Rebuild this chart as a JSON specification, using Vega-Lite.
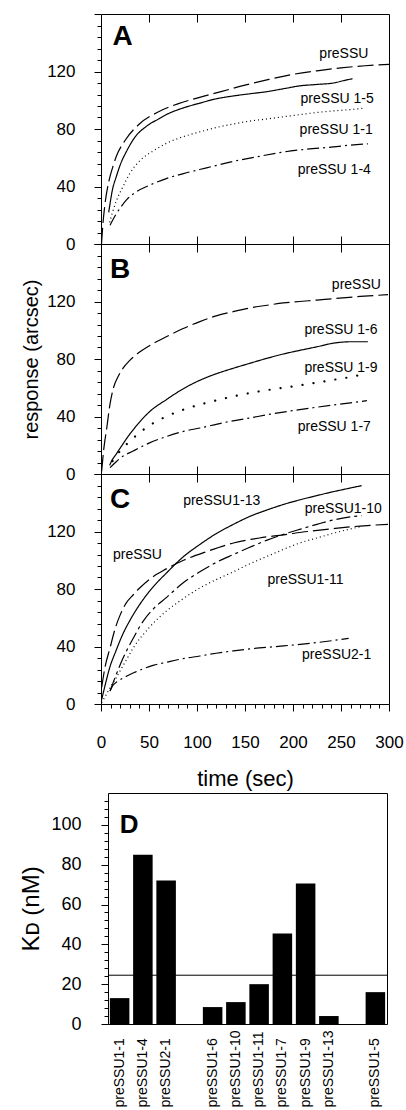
{
  "$schema": "https://vega.github.io/schema/vega-lite/v6.json",
  "padding": {"left": 19, "top": 4, "right": 2, "bottom": 0},
  "spacing": 1,
  "datasets": {
    "curves": [
      {"panel":"A","series":"preSSU","t":0.5,"y":0},{"panel":"A","series":"preSSU","t":2,"y":14},{"panel":"A","series":"preSSU","t":4,"y":27},{"panel":"A","series":"preSSU","t":8,"y":43},{"panel":"A","series":"preSSU","t":12,"y":53},{"panel":"A","series":"preSSU","t":16,"y":61},{"panel":"A","series":"preSSU","t":25,"y":72},{"panel":"A","series":"preSSU","t":40,"y":83.5},{"panel":"A","series":"preSSU","t":60,"y":92},{"panel":"A","series":"preSSU","t":80,"y":97.5},{"panel":"A","series":"preSSU","t":100,"y":101.5},{"panel":"A","series":"preSSU","t":125,"y":106},{"panel":"A","series":"preSSU","t":150,"y":110.5},{"panel":"A","series":"preSSU","t":175,"y":114.5},{"panel":"A","series":"preSSU","t":200,"y":118},{"panel":"A","series":"preSSU","t":225,"y":120.5},{"panel":"A","series":"preSSU","t":250,"y":122.5},{"panel":"A","series":"preSSU","t":275,"y":124},{"panel":"A","series":"preSSU","t":300,"y":125},
      {"panel":"A","series":"preSSU 1-5","t":8,"y":22},{"panel":"A","series":"preSSU 1-5","t":9.4,"y":28},{"panel":"A","series":"preSSU 1-5","t":12,"y":38},{"panel":"A","series":"preSSU 1-5","t":16,"y":47},{"panel":"A","series":"preSSU 1-5","t":20,"y":55},{"panel":"A","series":"preSSU 1-5","t":27,"y":65},{"panel":"A","series":"preSSU 1-5","t":35,"y":74},{"panel":"A","series":"preSSU 1-5","t":47.6,"y":82},{"panel":"A","series":"preSSU 1-5","t":60,"y":87},{"panel":"A","series":"preSSU 1-5","t":68,"y":90},{"panel":"A","series":"preSSU 1-5","t":85,"y":94.5},{"panel":"A","series":"preSSU 1-5","t":103,"y":98},{"panel":"A","series":"preSSU 1-5","t":120,"y":101},{"panel":"A","series":"preSSU 1-5","t":138,"y":103},{"panel":"A","series":"preSSU 1-5","t":155,"y":104.5},{"panel":"A","series":"preSSU 1-5","t":173,"y":106},{"panel":"A","series":"preSSU 1-5","t":190,"y":108},{"panel":"A","series":"preSSU 1-5","t":207,"y":110},{"panel":"A","series":"preSSU 1-5","t":225,"y":111},{"panel":"A","series":"preSSU 1-5","t":242,"y":112},{"panel":"A","series":"preSSU 1-5","t":255,"y":114},{"panel":"A","series":"preSSU 1-5","t":262,"y":115},
      {"panel":"A","series":"preSSU 1-1","t":9,"y":15},{"panel":"A","series":"preSSU 1-1","t":12,"y":22},{"panel":"A","series":"preSSU 1-1","t":16,"y":30},{"panel":"A","series":"preSSU 1-1","t":23,"y":40},{"panel":"A","series":"preSSU 1-1","t":30,"y":49},{"panel":"A","series":"preSSU 1-1","t":40.6,"y":58},{"panel":"A","series":"preSSU 1-1","t":55,"y":65},{"panel":"A","series":"preSSU 1-1","t":68,"y":70},{"panel":"A","series":"preSSU 1-1","t":85,"y":74.5},{"panel":"A","series":"preSSU 1-1","t":103,"y":78},{"panel":"A","series":"preSSU 1-1","t":120,"y":81},{"panel":"A","series":"preSSU 1-1","t":138,"y":83.5},{"panel":"A","series":"preSSU 1-1","t":155,"y":85.5},{"panel":"A","series":"preSSU 1-1","t":173,"y":87},{"panel":"A","series":"preSSU 1-1","t":190,"y":88.5},{"panel":"A","series":"preSSU 1-1","t":207,"y":90},{"panel":"A","series":"preSSU 1-1","t":225,"y":91.5},{"panel":"A","series":"preSSU 1-1","t":242,"y":92.6},{"panel":"A","series":"preSSU 1-1","t":260,"y":93.5},{"panel":"A","series":"preSSU 1-1","t":273,"y":94.4},
      {"panel":"A","series":"preSSU 1-4","t":9.4,"y":13},{"panel":"A","series":"preSSU 1-4","t":15,"y":20},{"panel":"A","series":"preSSU 1-4","t":20,"y":25},{"panel":"A","series":"preSSU 1-4","t":27,"y":31},{"panel":"A","series":"preSSU 1-4","t":35,"y":35.5},{"panel":"A","series":"preSSU 1-4","t":51,"y":41},{"panel":"A","series":"preSSU 1-4","t":68,"y":45.5},{"panel":"A","series":"preSSU 1-4","t":86,"y":49},{"panel":"A","series":"preSSU 1-4","t":110,"y":53},{"panel":"A","series":"preSSU 1-4","t":138,"y":57.5},{"panel":"A","series":"preSSU 1-4","t":165,"y":61},{"panel":"A","series":"preSSU 1-4","t":190,"y":64},{"panel":"A","series":"preSSU 1-4","t":215,"y":66},{"panel":"A","series":"preSSU 1-4","t":242,"y":67.5},{"panel":"A","series":"preSSU 1-4","t":260,"y":68.8},{"panel":"A","series":"preSSU 1-4","t":278,"y":69.7},

      {"panel":"B","series":"preSSU","t":0.7,"y":2},{"panel":"B","series":"preSSU","t":3,"y":18},{"panel":"B","series":"preSSU","t":6,"y":32},{"panel":"B","series":"preSSU","t":9,"y":47},{"panel":"B","series":"preSSU","t":13,"y":60},{"panel":"B","series":"preSSU","t":18,"y":68},{"panel":"B","series":"preSSU","t":23,"y":73.6},{"panel":"B","series":"preSSU","t":30,"y":79},{"panel":"B","series":"preSSU","t":40.6,"y":85},{"panel":"B","series":"preSSU","t":55,"y":91},{"panel":"B","series":"preSSU","t":68,"y":95.5},{"panel":"B","series":"preSSU","t":85,"y":101},{"panel":"B","series":"preSSU","t":103,"y":106},{"panel":"B","series":"preSSU","t":120,"y":110},{"panel":"B","series":"preSSU","t":138,"y":113},{"panel":"B","series":"preSSU","t":155,"y":115.5},{"panel":"B","series":"preSSU","t":173,"y":117.4},{"panel":"B","series":"preSSU","t":190,"y":119},{"panel":"B","series":"preSSU","t":207,"y":120},{"panel":"B","series":"preSSU","t":225,"y":121},{"panel":"B","series":"preSSU","t":242,"y":122},{"panel":"B","series":"preSSU","t":270,"y":123.5},{"panel":"B","series":"preSSU","t":299,"y":124.8},
      {"panel":"B","series":"preSSU 1-6","t":9,"y":6},{"panel":"B","series":"preSSU 1-6","t":11,"y":9},{"panel":"B","series":"preSSU 1-6","t":16,"y":14},{"panel":"B","series":"preSSU 1-6","t":20,"y":18},{"panel":"B","series":"preSSU 1-6","t":27,"y":25},{"panel":"B","series":"preSSU 1-6","t":35,"y":32},{"panel":"B","series":"preSSU 1-6","t":51,"y":43.6},{"panel":"B","series":"preSSU 1-6","t":68,"y":51.7},{"panel":"B","series":"preSSU 1-6","t":80,"y":57},{"panel":"B","series":"preSSU 1-6","t":96,"y":63},{"panel":"B","series":"preSSU 1-6","t":115,"y":68.5},{"panel":"B","series":"preSSU 1-6","t":138,"y":73.6},{"panel":"B","series":"preSSU 1-6","t":155,"y":77},{"panel":"B","series":"preSSU 1-6","t":173,"y":80.5},{"panel":"B","series":"preSSU 1-6","t":190,"y":83.5},{"panel":"B","series":"preSSU 1-6","t":207,"y":86},{"panel":"B","series":"preSSU 1-6","t":225,"y":88.5},{"panel":"B","series":"preSSU 1-6","t":242,"y":91},{"panel":"B","series":"preSSU 1-6","t":260,"y":92},{"panel":"B","series":"preSSU 1-6","t":278,"y":92},
      {"panel":"B","series":"preSSU 1-9","t":12,"y":9},{"panel":"B","series":"preSSU 1-9","t":15,"y":12},{"panel":"B","series":"preSSU 1-9","t":20,"y":16},{"panel":"B","series":"preSSU 1-9","t":33.6,"y":25},{"panel":"B","series":"preSSU 1-9","t":51,"y":34},{"panel":"B","series":"preSSU 1-9","t":68,"y":40},{"panel":"B","series":"preSSU 1-9","t":86,"y":44.8},{"panel":"B","series":"preSSU 1-9","t":110,"y":49.5},{"panel":"B","series":"preSSU 1-9","t":138,"y":54},{"panel":"B","series":"preSSU 1-9","t":165,"y":57.5},{"panel":"B","series":"preSSU 1-9","t":190,"y":60},{"panel":"B","series":"preSSU 1-9","t":215,"y":62.5},{"panel":"B","series":"preSSU 1-9","t":242,"y":65.5},{"panel":"B","series":"preSSU 1-9","t":260,"y":67.5},{"panel":"B","series":"preSSU 1-9","t":277,"y":70},
      {"panel":"B","series":"preSSU 1-7","t":9.4,"y":4.4},{"panel":"B","series":"preSSU 1-7","t":15,"y":8},{"panel":"B","series":"preSSU 1-7","t":20,"y":11},{"panel":"B","series":"preSSU 1-7","t":33.6,"y":16},{"panel":"B","series":"preSSU 1-7","t":50,"y":21.5},{"panel":"B","series":"preSSU 1-7","t":68,"y":26},{"panel":"B","series":"preSSU 1-7","t":85,"y":29.5},{"panel":"B","series":"preSSU 1-7","t":103,"y":32},{"panel":"B","series":"preSSU 1-7","t":130,"y":36},{"panel":"B","series":"preSSU 1-7","t":155,"y":39},{"panel":"B","series":"preSSU 1-7","t":180,"y":42},{"panel":"B","series":"preSSU 1-7","t":207,"y":44.8},{"panel":"B","series":"preSSU 1-7","t":225,"y":46.5},{"panel":"B","series":"preSSU 1-7","t":242,"y":48},{"panel":"B","series":"preSSU 1-7","t":260,"y":49.5},{"panel":"B","series":"preSSU 1-7","t":277,"y":51},

      {"panel":"C","series":"preSSU","t":0.7,"y":11.5},{"panel":"C","series":"preSSU","t":4,"y":25},{"panel":"C","series":"preSSU","t":9.4,"y":39},{"panel":"C","series":"preSSU","t":15,"y":53},{"panel":"C","series":"preSSU","t":20,"y":62},{"panel":"C","series":"preSSU","t":26,"y":70},{"panel":"C","series":"preSSU","t":33.6,"y":76},{"panel":"C","series":"preSSU","t":40,"y":80.5},{"panel":"C","series":"preSSU","t":51,"y":87},{"panel":"C","series":"preSSU","t":68,"y":94},{"panel":"C","series":"preSSU","t":86,"y":100},{"panel":"C","series":"preSSU","t":110,"y":106},{"panel":"C","series":"preSSU","t":138,"y":112},{"panel":"C","series":"preSSU","t":165,"y":115.5},{"panel":"C","series":"preSSU","t":190,"y":117.7},{"panel":"C","series":"preSSU","t":215,"y":120},{"panel":"C","series":"preSSU","t":242,"y":122},{"panel":"C","series":"preSSU","t":270,"y":123.8},{"panel":"C","series":"preSSU","t":299,"y":125},
      {"panel":"C","series":"preSSU1-13","t":0.7,"y":3},{"panel":"C","series":"preSSU1-13","t":5,"y":15},{"panel":"C","series":"preSSU1-13","t":9.4,"y":26},{"panel":"C","series":"preSSU1-13","t":15,"y":36},{"panel":"C","series":"preSSU1-13","t":23,"y":49},{"panel":"C","series":"preSSU1-13","t":30,"y":58},{"panel":"C","series":"preSSU1-13","t":40.6,"y":69.5},{"panel":"C","series":"preSSU1-13","t":55,"y":82},{"panel":"C","series":"preSSU1-13","t":68,"y":91},{"panel":"C","series":"preSSU1-13","t":85,"y":102},{"panel":"C","series":"preSSU1-13","t":103,"y":111},{"panel":"C","series":"preSSU1-13","t":120,"y":118.5},{"panel":"C","series":"preSSU1-13","t":138,"y":125},{"panel":"C","series":"preSSU1-13","t":155,"y":130.5},{"panel":"C","series":"preSSU1-13","t":173,"y":135},{"panel":"C","series":"preSSU1-13","t":190,"y":138.8},{"panel":"C","series":"preSSU1-13","t":207,"y":142},{"panel":"C","series":"preSSU1-13","t":225,"y":145},{"panel":"C","series":"preSSU1-13","t":242,"y":147.7},{"panel":"C","series":"preSSU1-13","t":258,"y":150},{"panel":"C","series":"preSSU1-13","t":271.5,"y":151.9},
      {"panel":"C","series":"preSSU1-10","t":9.4,"y":9},{"panel":"C","series":"preSSU1-10","t":15,"y":19},{"panel":"C","series":"preSSU1-10","t":23,"y":32},{"panel":"C","series":"preSSU1-10","t":33,"y":45},{"panel":"C","series":"preSSU1-10","t":44,"y":57.7},{"panel":"C","series":"preSSU1-10","t":55,"y":66.5},{"panel":"C","series":"preSSU1-10","t":68,"y":74},{"panel":"C","series":"preSSU1-10","t":85,"y":84},{"panel":"C","series":"preSSU1-10","t":103,"y":92},{"panel":"C","series":"preSSU1-10","t":120,"y":98.5},{"panel":"C","series":"preSSU1-10","t":138,"y":104},{"panel":"C","series":"preSSU1-10","t":155,"y":109},{"panel":"C","series":"preSSU1-10","t":173,"y":114},{"panel":"C","series":"preSSU1-10","t":190,"y":118},{"panel":"C","series":"preSSU1-10","t":207,"y":121.5},{"panel":"C","series":"preSSU1-10","t":225,"y":125},{"panel":"C","series":"preSSU1-10","t":242,"y":128},{"panel":"C","series":"preSSU1-10","t":258,"y":130},{"panel":"C","series":"preSSU1-10","t":271.5,"y":131},
      {"panel":"C","series":"preSSU1-11","t":0.7,"y":1},{"panel":"C","series":"preSSU1-11","t":5,"y":6},{"panel":"C","series":"preSSU1-11","t":10,"y":12},{"panel":"C","series":"preSSU1-11","t":16,"y":18.5},{"panel":"C","series":"preSSU1-11","t":25,"y":29},{"panel":"C","series":"preSSU1-11","t":33.6,"y":39},{"panel":"C","series":"preSSU1-11","t":50,"y":53},{"panel":"C","series":"preSSU1-11","t":68,"y":64.6},{"panel":"C","series":"preSSU1-11","t":85,"y":73},{"panel":"C","series":"preSSU1-11","t":103,"y":80.7},{"panel":"C","series":"preSSU1-11","t":120,"y":86.5},{"panel":"C","series":"preSSU1-11","t":138,"y":92},{"panel":"C","series":"preSSU1-11","t":155,"y":97.5},{"panel":"C","series":"preSSU1-11","t":173,"y":102.7},{"panel":"C","series":"preSSU1-11","t":190,"y":107.5},{"panel":"C","series":"preSSU1-11","t":207,"y":112},{"panel":"C","series":"preSSU1-11","t":225,"y":115.5},{"panel":"C","series":"preSSU1-11","t":242,"y":118.8},{"panel":"C","series":"preSSU1-11","t":258,"y":121.5},{"panel":"C","series":"preSSU1-11","t":271.5,"y":123.5},
      {"panel":"C","series":"preSSU2-1","t":9.4,"y":9},{"panel":"C","series":"preSSU2-1","t":12,"y":12.5},{"panel":"C","series":"preSSU2-1","t":18,"y":16},{"panel":"C","series":"preSSU2-1","t":27,"y":19.5},{"panel":"C","series":"preSSU2-1","t":35,"y":22},{"panel":"C","series":"preSSU2-1","t":44,"y":24.5},{"panel":"C","series":"preSSU2-1","t":55,"y":27},{"panel":"C","series":"preSSU2-1","t":68,"y":29},{"panel":"C","series":"preSSU2-1","t":85,"y":31.5},{"panel":"C","series":"preSSU2-1","t":103,"y":33.4},{"panel":"C","series":"preSSU2-1","t":120,"y":35.3},{"panel":"C","series":"preSSU2-1","t":138,"y":37},{"panel":"C","series":"preSSU2-1","t":165,"y":39},{"panel":"C","series":"preSSU2-1","t":190,"y":40.4},{"panel":"C","series":"preSSU2-1","t":215,"y":42},{"panel":"C","series":"preSSU2-1","t":240,"y":44},{"panel":"C","series":"preSSU2-1","t":258,"y":45.7}
    ],
    "labels": [
      {"panel":"A","text":"preSSU","t":253,"y":132},{"panel":"A","text":"preSSU 1-5","t":246,"y":100.7},{"panel":"A","text":"preSSU 1-1","t":245,"y":79},{"panel":"A","text":"preSSU 1-4","t":243,"y":51.4},
      {"panel":"B","text":"preSSU","t":266,"y":131.7},{"panel":"B","text":"preSSU 1-6","t":250,"y":100},{"panel":"B","text":"preSSU 1-9","t":250,"y":73.6},{"panel":"B","text":"preSSU 1-7","t":243,"y":33},
      {"panel":"C","text":"preSSU1-13","t":125.7,"y":141},{"panel":"C","text":"preSSU1-10","t":252.4,"y":135.7},{"panel":"C","text":"preSSU","t":38,"y":103.9},{"panel":"C","text":"preSSU1-11","t":213,"y":86.6},{"panel":"C","text":"preSSU2-1","t":245.5,"y":34}
    ],
    "letters": [
      {"panel":"A","text":"A","t":12,"y":144},{"panel":"B","text":"B","t":9.5,"y":142},{"panel":"C","text":"C","t":9.5,"y":142}
    ],
    "kd": [
      {"construct":"preSSU1-1","kd":13},{"construct":"preSSU1-4","kd":85},{"construct":"preSSU2-1","kd":72},
      {"construct":"preSSU1-6","kd":8.5},{"construct":"preSSU1-10","kd":11},{"construct":"preSSU1-11","kd":20},{"construct":"preSSU1-7","kd":45.5},{"construct":"preSSU1-9","kd":70.5},{"construct":"preSSU1-13","kd":4},
      {"construct":"preSSU1-5","kd":16}
    ],
    "refline": [{"kd": 24.5}],
    "dletter": [{"text":"D","construct":"preSSU1-1","kd":100}],
    "empty": []
  },
  "vconcat": [
    {
      "vconcat": [
        {
          "width": 288, "height": 230,
          "encoding": {
            "y": {"field": "y", "type": "quantitative", "scale": {"domain": [0, 160]},
                  "axis": {"values": [0,8,16,24,32,40,48,56,64,72,80,88,96,104,112,120,128,136,144,152,160],
                           "labelExpr": "datum.value % 40 === 0 && datum.value < 160 ? datum.label : ''",
                           "tickSize": {"condition": {"test": "datum.value % 40 === 0", "value": 7}, "value": 4},
                           "labelFontSize": 17, "labelPadding": 19, "title": null}}
          },
          "layer": [
            {
              "data": {"name": "curves"},
              "transform": [{"filter": "datum.panel === 'A'"}],
              "mark": {"type": "line", "interpolate": "monotone", "strokeWidth": 1.2, "color": "black"},
              "encoding": {
                "x": {"field": "t", "type": "quantitative", "scale": {"domain": [0, 300]},
                      "axis": {"orient": "bottom", "values": [50,100,150,200,250], "tickSize": -8, "labels": false, "title": null}},
                "strokeDash": {"field": "series", "type": "nominal", "legend": null,
                  "scale": {"domain": ["preSSU","preSSU 1-5","preSSU 1-1","preSSU 1-4","preSSU 1-6","preSSU 1-7","preSSU1-13","preSSU1-10","preSSU1-11","preSSU2-1"],
                            "range": [[16,5],[1,0],[1,3],[12,4,2,4],[1,0],[12,4,2,4],[1,0],[14,4,3,4],[1,3],[12,4,2,4]]}}
              }
            },
            {
              "data": {"name": "labels"},
              "transform": [{"filter": "datum.panel === 'A'"}],
              "mark": {"type": "text", "fontSize": 14, "align": "center", "baseline": "middle", "color": "black"},
              "encoding": {
                "x": {"field": "t", "type": "quantitative", "axis": {"orient": "top", "values": [50,100,150,200,250], "tickSize": -8, "labels": false, "title": null}},
                "text": {"field": "text"}
              }
            },
            {
              "data": {"name": "letters"},
              "transform": [{"filter": "datum.panel === 'A'"}],
              "mark": {"type": "text", "fontSize": 28, "fontWeight": "bold", "align": "left", "baseline": "middle", "color": "black"},
              "encoding": {
                "x": {"field": "t", "type": "quantitative", "axis": null},
                "text": {"field": "text"}
              }
            }
          ],
          "resolve": {"axis": {"x": "independent"}}
        },
        {
          "width": 288, "height": 230,
          "encoding": {
            "y": {"field": "y", "type": "quantitative", "scale": {"domain": [0, 160]},
                  "axis": {"values": [0,8,16,24,32,40,48,56,64,72,80,88,96,104,112,120,128,136,144,152,160],
                           "labelExpr": "datum.value % 40 === 0 && datum.value < 160 ? datum.label : ''",
                           "tickSize": {"condition": {"test": "datum.value % 40 === 0", "value": 7}, "value": 4},
                           "labelFontSize": 17, "labelPadding": 19,
                           "title": "response (arcsec)", "titleFontSize": 20, "titleFontWeight": "normal", "titlePadding": 5}}
          },
          "layer": [
            {
              "data": {"name": "curves"},
              "transform": [{"filter": "datum.panel === 'B' && datum.series !== 'preSSU 1-9'"}],
              "mark": {"type": "line", "interpolate": "monotone", "strokeWidth": 1.2, "color": "black"},
              "encoding": {
                "x": {"field": "t", "type": "quantitative", "scale": {"domain": [0, 300]},
                      "axis": {"orient": "bottom", "values": [50,100,150,200,250], "tickSize": -8, "labels": false, "title": null}},
                "strokeDash": {"field": "series", "type": "nominal", "legend": null,
                  "scale": {"domain": ["preSSU","preSSU 1-5","preSSU 1-1","preSSU 1-4","preSSU 1-6","preSSU 1-7","preSSU1-13","preSSU1-10","preSSU1-11","preSSU2-1"],
                            "range": [[16,5],[1,0],[1,3],[12,4,2,4],[1,0],[12,4,2,4],[1,0],[14,4,3,4],[1,3],[12,4,2,4]]}}
              }
            },
            {
              "data": {"name": "curves"},
              "transform": [{"filter": "datum.panel === 'B' && datum.series === 'preSSU 1-9'"}],
              "mark": {"type": "line", "interpolate": "monotone", "strokeWidth": 2.2, "strokeCap": "round", "strokeDash": [0.1, 11], "color": "black"},
              "encoding": {
                "x": {"field": "t", "type": "quantitative", "axis": null}
              }
            },
            {
              "data": {"name": "labels"},
              "transform": [{"filter": "datum.panel === 'B'"}],
              "mark": {"type": "text", "fontSize": 14, "align": "center", "baseline": "middle", "color": "black"},
              "encoding": {
                "x": {"field": "t", "type": "quantitative", "axis": {"orient": "top", "values": [50,100,150,200,250], "tickSize": -8, "labels": false, "title": null}},
                "text": {"field": "text"}
              }
            },
            {
              "data": {"name": "letters"},
              "transform": [{"filter": "datum.panel === 'B'"}],
              "mark": {"type": "text", "fontSize": 28, "fontWeight": "bold", "align": "left", "baseline": "middle", "color": "black"},
              "encoding": {
                "x": {"field": "t", "type": "quantitative", "axis": null},
                "text": {"field": "text"}
              }
            }
          ],
          "resolve": {"axis": {"x": "independent"}}
        },
        {
          "width": 288, "height": 230,
          "encoding": {
            "y": {"field": "y", "type": "quantitative", "scale": {"domain": [0, 160]},
                  "axis": {"values": [0,8,16,24,32,40,48,56,64,72,80,88,96,104,112,120,128,136,144,152,160],
                           "labelExpr": "datum.value % 40 === 0 && datum.value < 160 ? datum.label : ''",
                           "tickSize": {"condition": {"test": "datum.value % 40 === 0", "value": 7}, "value": 4},
                           "labelFontSize": 17, "labelPadding": 19, "title": null}}
          },
          "layer": [
            {
              "data": {"name": "curves"},
              "transform": [{"filter": "datum.panel === 'C'"}],
              "mark": {"type": "line", "interpolate": "monotone", "strokeWidth": 1.2, "color": "black"},
              "encoding": {
                "x": {"field": "t", "type": "quantitative", "scale": {"domain": [0, 300]},
                      "axis": {"orient": "bottom", "values": [0,10,20,30,40,50,60,70,80,90,100,110,120,130,140,150,160,170,180,190,200,210,220,230,240,250,260,270,280,290,300],
                               "labelExpr": "datum.value % 50 === 0 ? datum.label : ''",
                               "tickSize": {"condition": {"test": "datum.value % 50 === 0", "value": 7}, "value": 4},
                               "labelFontSize": 17, "labelPadding": 23, "labelFlush": false,
                               "title": "time (sec)", "titleFontSize": 22, "titleFontWeight": "normal", "titlePadding": 18}},
                "strokeDash": {"field": "series", "type": "nominal", "legend": null,
                  "scale": {"domain": ["preSSU","preSSU 1-5","preSSU 1-1","preSSU 1-4","preSSU 1-6","preSSU 1-7","preSSU1-13","preSSU1-10","preSSU1-11","preSSU2-1"],
                            "range": [[16,5],[1,0],[1,3],[12,4,2,4],[1,0],[12,4,2,4],[1,0],[14,4,3,4],[1,3],[12,4,2,4]]}}
              }
            },
            {
              "data": {"name": "labels"},
              "transform": [{"filter": "datum.panel === 'C'"}],
              "mark": {"type": "text", "fontSize": 14, "align": "center", "baseline": "middle", "color": "black"},
              "encoding": {
                "x": {"field": "t", "type": "quantitative", "axis": {"orient": "top", "values": [50,100,150,200,250], "tickSize": -8, "labels": false, "title": null}},
                "text": {"field": "text"}
              }
            },
            {
              "data": {"name": "letters"},
              "transform": [{"filter": "datum.panel === 'C'"}],
              "mark": {"type": "text", "fontSize": 28, "fontWeight": "bold", "align": "left", "baseline": "middle", "color": "black"},
              "encoding": {
                "x": {"field": "t", "type": "quantitative", "axis": null},
                "text": {"field": "text"}
              }
            }
          ],
          "resolve": {"axis": {"x": "independent"}}
        }
      ],
      "spacing": 0,
      "bounds": "flush"
    },
    {
      "hconcat": [
        {
          "width": 7, "height": 231,
          "view": {"stroke": null},
          "data": {"name": "empty"},
          "mark": {"type": "point", "opacity": 0},
          "encoding": {}
        },
        {
          "width": 279, "height": 231,
          "encoding": {
            "y": {"field": "kd", "type": "quantitative", "scale": {"domain": [0, 116]},
                  "axis": {"values": [0,4,8,12,16,20,24,28,32,36,40,44,48,52,56,60,64,68,72,76,80,84,88,92,96,100,104,108,112],
                           "labelExpr": "datum.value % 20 === 0 ? datum.label : ''",
                           "tickSize": {"condition": {"test": "datum.value % 20 === 0", "value": 7}, "value": 4},
                           "labelFontSize": 18, "labelPadding": 20,
                           "title": "Kᴅ (nM)", "titleFontSize": 24, "titleFontWeight": "normal", "titlePadding": 7}}
          },
          "layer": [
            {
              "data": {"name": "kd"},
              "mark": {"type": "bar", "color": "black"},
              "encoding": {
                "x": {"field": "construct", "type": "nominal", "sort": null,
                      "scale": {"domain": ["preSSU1-1","preSSU1-4","preSSU2-1","gap1","preSSU1-6","preSSU1-10","preSSU1-11","preSSU1-7","preSSU1-9","preSSU1-13","gap2","preSSU1-5"], "paddingInner": 0.16, "paddingOuter": 0.08},
                      "axis": {"labelAngle": -90, "labelAlign": "left", "labelBaseline": "middle", "labelPadding": 83, "ticks": false, "labelFontSize": 14, "title": null,
                               "labelExpr": "indexof(datum.label, 'gap') === 0 ? '' : datum.label"}}
              }
            },
            {
              "data": {"name": "refline"},
              "mark": {"type": "rule", "color": "black", "strokeWidth": 1},
              "encoding": {}
            },
            {
              "data": {"name": "dletter"},
              "mark": {"type": "text", "fontSize": 26, "fontWeight": "bold", "align": "left", "baseline": "middle", "color": "black"},
              "encoding": {
                "x": {"field": "construct", "type": "nominal"},
                "text": {"field": "text"}
              }
            }
          ]
        }
      ],
      "spacing": 0,
      "bounds": "flush"
    }
  ],
  "config": {
    "font": "Liberation Sans",
    "view": {"stroke": "black", "strokeWidth": 1},
    "axis": {"domain": false, "grid": false, "tickColor": "black", "labelColor": "black", "titleColor": "black", "tickWidth": 1, "labelOverlap": false}
  }
}
